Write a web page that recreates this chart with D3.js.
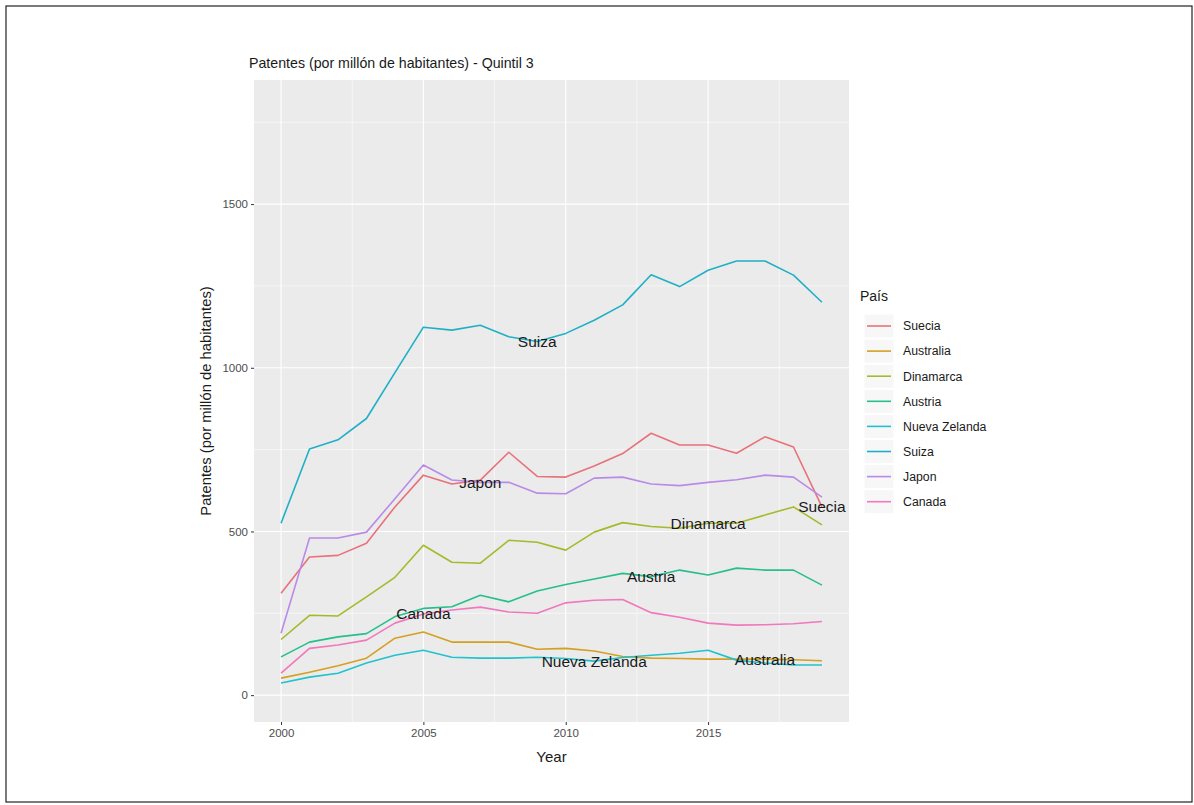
<!DOCTYPE html>
<html><head><meta charset="utf-8">
<script src="https://cdn.jsdelivr.net/npm/d3@7"></script>
<style>body{margin:0;background:#fff;} svg{display:block;}</style>
</head><body>
<svg id="chart" width="1194" height="805"></svg>
<script>
const years = d3.range(2000, 2020);
const countries = ["Suecia","Australia","Dinamarca","Austria","Nueva Zelanda","Suiza","Japon","Canada"];
const colors = ["#E8717A","#D3A021","#A6B92A","#27BE8E","#21C2CE","#1FB0C6","#B98BE6","#F277BC"];
const suecia = [311,422,427,464,575,672,645,657,742,668,666,700,738,800,764,764,739,789,758,575];
const australia = [52,70,90,113,174,193,162,162,162,140,143,135,118,113,112,110,110,110,108,105];
const dinamarca = [170,244,242,300,360,458,406,403,473,467,443,498,527,515,510,525,525,550,575,520];
const austria = [117,162,178,188,240,265,270,305,285,318,338,355,372,362,382,367,388,382,382,336];
const nuevaZelanda = [37,55,67,98,122,137,116,113,113,116,112,104,115,122,128,137,107,98,92,92];
const suiza = [525,752,780,845,985,1124,1115,1130,1095,1080,1105,1145,1192,1284,1248,1298,1326,1326,1283,1200];
const japon = [189,480,480,498,600,703,657,650,650,617,615,663,666,645,640,650,658,672,666,605];
const canada = [67,143,153,168,220,248,260,269,254,250,282,290,292,252,238,220,214,215,218,225];
const seriesValues = [suecia,australia,dinamarca,austria,nuevaZelanda,suiza,japon,canada];
const labelYears = [2019,2017,2015,2013,2011,2009,2007,2005];
const xTicks = [2000,2005,2010,2015];
const yTicks = [0,500,1000,1500];
const xMinor = [2002.5,2007.5,2012.5,2017.5];
const yMinor = [250,750,1250,1750];

const svg = d3.select("#chart");
const font = "'Liberation Sans', Arial, sans-serif";
svg.append("rect").attr("x",6).attr("y",6).attr("width",1186).attr("height",796)
  .attr("fill","#fff").attr("stroke","#222").attr("stroke-width",1.2);

const P = {l:254, r:849, t:80, b:722};
const x = d3.scaleLinear().domain([1999.05, 2019.95]).range([P.l, P.r]);
const y = d3.scaleLinear().domain([-82, 1879]).range([P.b, P.t]);

svg.append("rect").attr("x",P.l).attr("y",P.t).attr("width",P.r-P.l).attr("height",P.b-P.t).attr("fill","#EBEBEB");
const g = svg.append("g");
g.selectAll(".ymin").data(yMinor).join("line").attr("x1",P.l).attr("x2",P.r)
  .attr("y1",d=>y(d)).attr("y2",d=>y(d)).attr("stroke","#fff").attr("stroke-width",0.55);
g.selectAll(".xmin").data(xMinor).join("line").attr("y1",P.t).attr("y2",P.b)
  .attr("x1",d=>x(d)).attr("x2",d=>x(d)).attr("stroke","#fff").attr("stroke-width",0.55);
g.selectAll(".ymaj").data(yTicks).join("line").attr("x1",P.l).attr("x2",P.r)
  .attr("y1",d=>y(d)).attr("y2",d=>y(d)).attr("stroke","#fff").attr("stroke-width",1.1);
g.selectAll(".xmaj").data(xTicks).join("line").attr("y1",P.t).attr("y2",P.b)
  .attr("x1",d=>x(d)).attr("x2",d=>x(d)).attr("stroke","#fff").attr("stroke-width",1.1);

// axes
const xAxis = d3.axisBottom(x).tickValues(xTicks).tickSize(3).tickPadding(4).tickFormat(d3.format("d"));
const ax = svg.append("g").attr("transform",`translate(0,${P.b})`).call(xAxis);
const yAxis = d3.axisLeft(y).tickValues(yTicks).tickSize(3).tickPadding(3).tickFormat(d3.format("d"));
const ay = svg.append("g").attr("transform",`translate(${P.l},0)`).call(yAxis);
[ax,ay].forEach(a=>{
  a.select(".domain").remove();
  a.selectAll(".tick line").attr("stroke","#333").attr("stroke-width",1);
  a.selectAll(".tick text").attr("fill","#4D4D4D").style("font-family",font).style("font-size","11.5px");
});

const line = d3.line().x((d,i)=>x(years[i])).y(d=>y(d));
countries.forEach((c,k)=>{
  svg.append("path").datum(seriesValues[k]).attr("d",line).attr("fill","none")
    .attr("stroke",colors[k]).attr("stroke-width",1.6).attr("stroke-linejoin","round");
});
countries.forEach((c,k)=>{
  const yr = labelYears[k];
  const v = seriesValues[k][years.indexOf(yr)];
  svg.append("text").attr("x",x(yr)).attr("y",y(v)).attr("dy","0.35em").attr("text-anchor","middle")
    .style("font-family",font).style("font-size","15.5px").attr("fill","#1a1a1a").text(c);
});

// titles
svg.append("text").attr("x",P.l-5).attr("y",68).style("font-family",font).style("font-size","14.2px")
  .attr("fill","#1a1a1a").text("Patentes (por millón de habitantes) - Quintil 3");
svg.append("text").attr("x",(P.l+P.r)/2).attr("y",762).attr("text-anchor","middle")
  .style("font-family",font).style("font-size","15px").attr("fill","#1a1a1a").text("Year");
svg.append("text").attr("transform",`translate(211,${(P.t+P.b)/2}) rotate(-90)`).attr("text-anchor","middle")
  .style("font-family",font).style("font-size","14.8px").attr("fill","#1a1a1a").text("Patentes (por millón de habitantes)");

// legend
const lg = svg.append("g").attr("transform","translate(864,0)");
lg.append("text").attr("x",-4).attr("y",301).style("font-family",font).style("font-size","14px")
  .attr("fill","#1a1a1a").text("País");
countries.forEach((c,k)=>{
  const cy = 326 + k*25.1;
  lg.append("rect").attr("x",0).attr("y",cy-12).attr("width",30).attr("height",24).attr("fill","#F7F7F7").attr("stroke","#fff");
  lg.append("line").attr("x1",3).attr("x2",27).attr("y1",cy).attr("y2",cy).attr("stroke",colors[k]).attr("stroke-width",1.6);
  lg.append("text").attr("x",39).attr("y",cy).attr("dy","0.35em").style("font-family",font).style("font-size","12.3px")
    .attr("fill","#1a1a1a").text(c);
});
</script>
</body></html>
